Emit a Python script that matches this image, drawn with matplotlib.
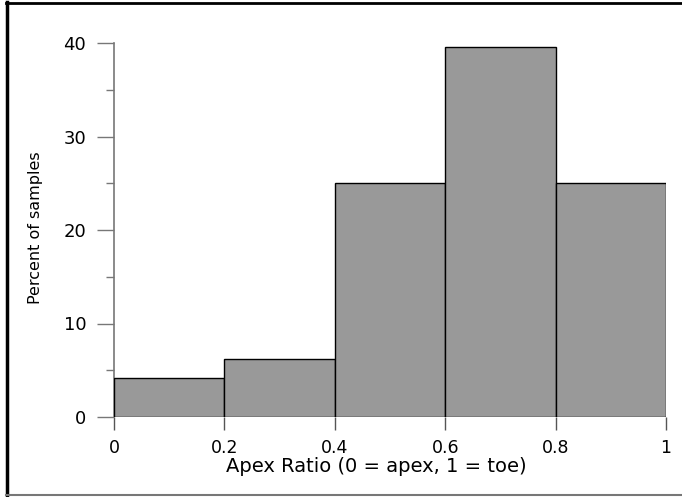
import matplotlib.pyplot as plt
from matplotlib.lines import Line2D
from matplotlib.ticker import MultipleLocator

# histogram data: bin edges and percent of samples per bin
bin_left = [0.0, 0.2, 0.4, 0.6, 0.8]
bin_width = 0.2
percent = [4.17, 6.25, 25.0, 39.58, 25.0]

x_ticks = [0, 0.2, 0.4, 0.6, 0.8, 1]
x_tick_labels = ['0', '0.2', '0.4', '0.6', '0.8', '1']
y_ticks = [0, 10, 20, 30, 40]

W, H = 682, 497
fig = plt.figure(figsize=(W / 100, H / 100), dpi=100)

# axes placed in pixel terms
left, right, bottom, top = 114, 666, 417, 43
ax = fig.add_axes([left / W, (H - bottom) / H, (right - left) / W, (bottom - top) / H])

ax.bar(bin_left, percent, width=bin_width, align='edge',
       color='#999999', edgecolor='black', linewidth=1.0, zorder=3)

ax.set_xlim(0, 1)
ax.set_ylim(0, 40)
ax.set_xticks(x_ticks)
ax.set_xticklabels(x_tick_labels)
ax.set_yticks(y_ticks)
ax.yaxis.set_minor_locator(MultipleLocator(5))

for s in ['top', 'right', 'bottom']:
    ax.spines[s].set_visible(False)
ax.spines['left'].set_color('#777777')
ax.spines['left'].set_linewidth(1.2)

ax.tick_params(axis='y', which='major', length=12, width=1, color='#777777',
               pad=8, labelsize=13)
ax.tick_params(axis='y', which='minor', length=6, width=1, color='#777777')
ax.tick_params(axis='x', which='major', length=9, width=1, color='#555555',
               pad=6.5, labelsize=12.5)

ax.set_xlabel('Apex Ratio (0 = apex, 1 = toe)', fontsize=14, va='top')
ax.xaxis.set_label_coords(0.476, -0.108)
ax.set_ylabel('Percent of samples', fontsize=11.5)
ax.yaxis.set_label_coords(-0.128, 0.505)

# frame around the figure (right edge cut off)
fig.add_artist(Line2D([7 / W, 7 / W], [1 - 2 / H, 1 - 495 / H], color='black', lw=2.5,
                      transform=fig.transFigure))
fig.add_artist(Line2D([6 / W, 1.0], [1 - 3 / H, 1 - 3 / H], color='black', lw=2,
                      transform=fig.transFigure))
fig.add_artist(Line2D([6 / W, 1.0], [1 - 495 / H, 1 - 495 / H], color='#777777', lw=1.5,
                      transform=fig.transFigure))

fig.savefig('out.png', dpi=100)
